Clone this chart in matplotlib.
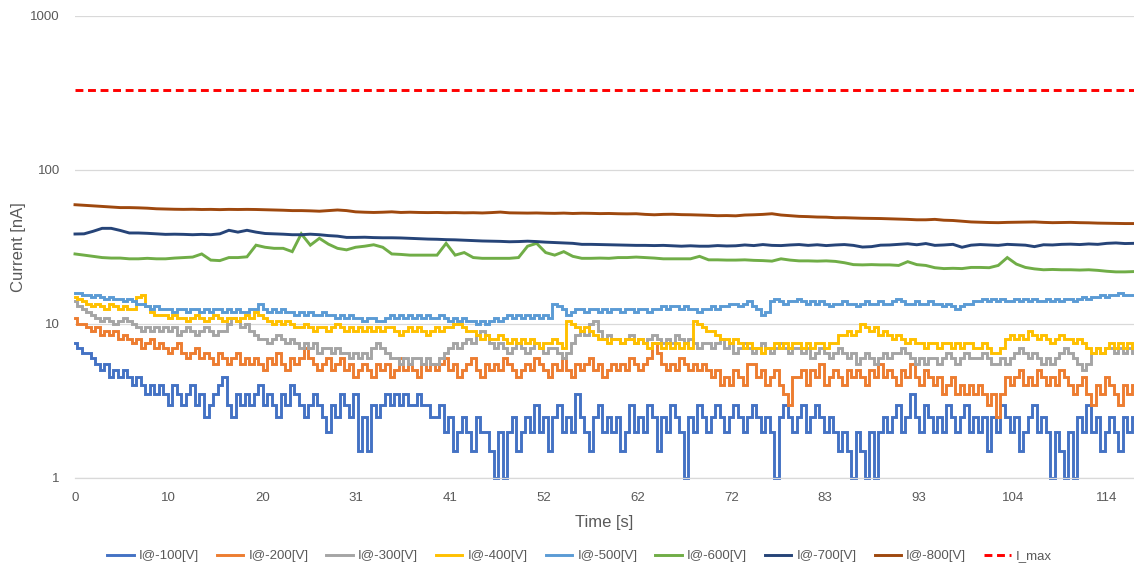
import numpy as np
import matplotlib.pyplot as plt
from matplotlib.ticker import NullLocator

plt.rcParams['font.family'] = ['Liberation Sans', 'DejaVu Sans']

# fine sampled series (0.5 s step), current in nA
i100 = [
    7.5, 7.0, 6.5, 6.5, 6.0, 5.5, 5.0, 5.5, 4.5, 5.0, 4.5, 5.0, 4.5, 4.0, 4.5, 4.0, 3.5, 4.0, 3.5, 4.0,
    3.5, 3.0, 4.0, 3.5, 3.0, 3.5, 4.0, 3.0, 3.5, 2.5, 3.0, 3.5, 4.0, 4.5, 3.0, 2.5, 3.5, 3.0, 3.5, 3.0,
    3.5, 4.0, 3.0, 3.5, 3.0, 2.5, 3.5, 3.0, 4.0, 3.5, 3.0, 2.5, 3.0, 3.5, 3.0, 2.5, 2.0, 3.0, 2.5, 3.5,
    3.0, 2.5, 3.5, 1.5, 2.5, 1.5, 3.0, 2.5, 3.0, 3.5, 3.0, 3.5, 3.0, 3.5, 3.0, 3.0, 3.5, 3.0, 3.0, 2.5,
    2.5, 3.0, 2.0, 2.5, 1.5, 2.0, 2.5, 2.0, 1.5, 2.5, 2.0, 2.0, 1.5, 1.0, 2.0, 1.0, 2.0, 2.5, 1.5, 2.0,
    2.5, 2.0, 3.0, 2.0, 2.5, 1.5, 2.5, 3.0, 2.0, 2.5, 2.0, 3.5, 2.5, 2.0, 1.5, 2.5, 3.0, 2.0, 2.5, 2.0,
    2.5, 1.5, 2.0, 3.0, 2.0, 2.5, 2.0, 3.0, 2.5, 1.5, 2.5, 2.0, 3.0, 2.5, 2.0, 1.0, 2.5, 2.0, 3.0, 2.5,
    2.0, 2.5, 3.0, 2.5, 2.0, 2.5, 3.0, 2.5, 2.0, 2.5, 3.0, 2.5, 2.0, 2.5, 2.0, 1.0, 2.5, 3.0, 2.5, 2.0,
    2.5, 3.0, 2.0, 2.5, 3.0, 2.5, 2.0, 2.5, 2.0, 1.5, 2.0, 1.5, 1.0, 2.0, 1.5, 1.0, 2.0, 1.0, 2.0, 2.5,
    2.0, 2.5, 3.0, 2.0, 2.5, 3.5, 2.5, 2.0, 3.0, 2.5, 2.0, 2.5, 2.0, 3.0, 2.5, 2.0, 2.5, 3.0, 2.0, 2.5,
    2.0, 2.5, 1.5, 2.5, 2.0, 3.0, 2.5, 2.0, 2.5, 1.5, 2.0, 2.5, 3.0, 2.0, 2.5, 2.0, 1.0, 2.0, 1.5, 1.0,
    2.0, 1.0, 2.5, 2.0, 3.0, 2.0, 2.5, 1.5, 2.0, 2.5, 2.0, 1.5, 2.5, 2.0, 2.5,
]
i200 = [
    11.0, 10.0, 10.0, 9.5, 9.0, 9.5, 8.5, 9.0, 8.5, 9.0, 8.0, 8.5, 8.0, 7.5, 8.0, 7.0, 7.5, 8.0, 7.0, 7.5,
    7.0, 6.5, 7.0, 7.5, 6.5, 6.0, 6.5, 7.0, 6.0, 6.5, 6.0, 5.5, 6.5, 6.0, 5.5, 6.0, 6.5, 5.5, 6.0, 5.5,
    6.0, 5.5, 5.0, 6.0, 5.5, 6.5, 5.5, 5.0, 6.0, 5.5, 6.0, 7.0, 6.0, 5.5, 5.0, 5.5, 6.0, 5.0, 5.5, 6.0,
    5.0, 5.5, 4.5, 5.0, 5.5, 5.0, 4.5, 5.5, 5.0, 5.5, 4.5, 5.0, 6.0, 5.0, 5.5, 5.0, 4.5, 5.5, 5.0, 5.5,
    5.0, 5.5, 6.0, 5.0, 5.5, 4.5, 5.0, 5.5, 6.0, 5.0, 4.5, 5.5, 5.0, 5.5, 5.0, 6.0, 5.5, 5.0, 4.5, 5.0,
    5.5, 5.0, 6.0, 5.5, 5.0, 4.5, 5.5, 5.0, 6.0, 5.0, 4.5, 5.5, 5.0, 5.5, 6.0, 5.0, 5.5, 4.5, 5.0, 5.5,
    5.0, 5.5, 5.0, 6.0, 5.5, 5.0, 5.5, 6.0, 7.5, 6.5, 5.5, 5.0, 5.5, 5.0, 6.0, 5.5, 5.0, 5.5, 5.0, 5.5,
    5.0, 4.5, 5.0, 4.0, 4.5, 4.0, 5.0, 4.5, 4.0, 5.5, 5.5, 4.5, 5.0, 4.0, 4.5, 5.0, 4.0, 3.5, 3.0, 4.5,
    4.5, 5.0, 4.0, 5.0, 4.5, 5.5, 4.0, 4.5, 5.0, 4.5, 4.0, 5.0, 4.5, 5.0, 4.5, 4.0, 5.0, 4.5, 5.5, 4.5,
    5.0, 4.5, 4.0, 5.0, 4.5, 5.5, 4.5, 4.0, 5.0, 4.5, 4.0, 4.5, 3.5, 4.0, 4.5, 3.5, 4.0, 3.5, 4.0, 3.5,
    4.0, 3.5, 3.0, 3.5, 2.5, 3.5, 4.5, 4.0, 4.5, 5.0, 4.0, 4.5, 4.0, 5.0, 4.5, 4.0, 4.5, 4.0, 5.0, 4.5,
    4.0, 3.5, 4.0, 4.5, 3.5, 3.0, 4.0, 3.5, 4.5, 4.0, 3.5, 3.0, 4.0, 3.5, 4.0,
]
i300 = [
    14.0, 13.0, 12.5, 12.0, 11.5, 11.0, 10.5, 11.0, 10.5, 10.0, 10.5, 11.0, 10.5, 10.0, 9.5, 9.0, 9.5, 9.0, 9.5, 9.0,
    9.5, 9.0, 9.5, 8.5, 9.0, 9.5, 9.0, 8.5, 9.0, 9.5, 9.0, 8.5, 9.0, 9.0, 10.0, 11.0, 10.5, 9.5, 10.0, 9.0,
    8.5, 8.0, 8.0, 7.5, 8.0, 8.5, 8.0, 7.5, 8.0, 7.5, 7.0, 7.5, 7.0, 7.5, 6.5, 7.0, 7.0, 6.5, 7.0, 6.5,
    6.5, 6.0, 6.5, 6.0, 6.5, 6.0, 7.0, 7.5, 7.0, 6.5, 6.0, 6.0, 5.5, 6.0, 5.5, 6.0, 6.0, 5.5, 6.0, 5.5,
    5.5, 6.0, 6.5, 7.0, 7.5, 7.0, 7.5, 8.0, 7.5, 8.5, 9.0, 8.5, 7.5, 7.0, 7.5, 7.0, 6.5, 7.0, 7.5, 7.0,
    6.5, 7.0, 7.5, 7.0, 6.5, 7.0, 7.0, 6.5, 6.0, 6.5, 7.5, 8.5, 9.0, 8.5, 10.0, 10.5, 9.0, 8.0, 8.5, 8.0,
    8.0, 7.5, 8.0, 8.5, 7.5, 8.0, 7.5, 8.0, 8.5, 8.0, 7.5, 8.0, 7.5, 8.5, 8.0, 7.5, 8.0, 7.5, 7.0, 7.5,
    7.5, 7.0, 7.5, 8.0, 7.0, 7.5, 6.5, 7.0, 7.5, 7.0, 6.5, 7.0, 7.5, 7.0, 6.5, 7.0, 7.5, 7.0, 6.5, 7.0,
    7.0, 6.5, 7.0, 6.0, 6.5, 7.0, 6.5, 6.0, 6.5, 7.0, 6.5, 6.0, 6.5, 5.5, 6.0, 6.5, 6.0, 5.5, 6.0, 6.5,
    6.0, 6.5, 6.5, 7.0, 6.5, 6.0, 5.5, 6.0, 5.5, 6.0, 6.0, 5.5, 6.0, 6.5, 6.0, 5.5, 6.0, 6.5, 6.0, 6.0,
    6.0, 6.5, 6.0, 5.5, 5.5, 6.0, 5.5, 6.0, 6.5, 7.0, 6.5, 6.0, 6.5, 6.0, 5.5, 6.0, 5.5, 6.0, 6.5, 7.0,
    6.5, 6.0, 5.5, 5.0, 5.5, 6.5, 7.0, 6.5, 7.0, 7.0, 6.5, 7.0, 6.5, 7.0, 6.5,
]
i400 = [
    15.0, 14.5, 14.0, 13.5, 13.0, 13.5, 13.0, 12.5, 13.5, 13.0, 12.5, 13.0, 12.5, 12.5, 15.0, 15.5, 13.0, 12.0, 11.5, 11.5,
    11.5, 11.0, 11.5, 11.0, 11.0, 10.5, 11.0, 11.5, 11.0, 10.5, 11.0, 11.5, 11.0, 10.5, 11.0, 11.0, 10.5, 11.0, 11.5, 11.0,
    12.0, 11.5, 11.0, 10.5, 10.0, 10.5, 10.0, 10.5, 10.0, 9.5, 9.5, 10.0, 9.5, 9.0, 9.5, 9.5, 9.0, 9.5, 10.0, 9.5,
    9.0, 9.5, 9.0, 9.5, 9.0, 9.5, 9.0, 9.5, 9.0, 9.5, 9.5, 9.0, 8.5, 9.0, 9.5, 9.0, 9.5, 9.0, 8.5, 9.0,
    9.5, 9.0, 9.5, 9.5, 10.0, 10.0, 9.5, 9.0, 9.0, 8.5, 8.0, 8.5, 8.0, 8.0, 8.5, 8.0, 7.5, 8.0, 7.5, 8.0,
    7.5, 8.0, 7.5, 7.0, 7.5, 7.5, 8.0, 7.5, 7.0, 10.5, 10.0, 9.5, 9.0, 9.5, 9.0, 8.5, 8.0, 8.0, 7.5, 8.0,
    8.0, 7.5, 8.0, 8.0, 7.5, 8.0, 7.5, 7.0, 7.5, 7.5, 7.0, 7.5, 7.0, 7.5, 7.0, 7.5, 7.0, 10.5, 10.0, 9.5,
    9.0, 9.0, 8.5, 8.0, 8.0, 7.5, 8.0, 7.5, 7.0, 7.5, 7.0, 7.0, 6.5, 7.0, 7.0, 7.5, 7.0, 7.5, 7.0, 7.5,
    7.5, 7.0, 7.5, 7.0, 7.5, 7.5, 7.0, 7.5, 7.5, 8.5, 8.5, 9.0, 8.5, 9.0, 10.0, 9.5, 9.0, 9.5, 8.5, 9.0,
    8.5, 8.0, 8.5, 8.0, 7.5, 8.0, 7.5, 7.5, 7.0, 7.5, 7.5, 7.0, 7.5, 7.5, 7.0, 7.5, 7.0, 7.5, 7.5, 7.0,
    7.0, 7.5, 7.0, 6.5, 6.5, 7.0, 8.0, 8.5, 8.0, 8.5, 8.0, 9.0, 8.5, 8.0, 8.5, 8.0, 7.5, 8.0, 8.5, 8.0,
    8.0, 7.5, 8.0, 7.5, 7.0, 6.5, 7.0, 6.5, 7.0, 7.5, 7.0, 7.5, 7.0, 7.5, 7.0,
]
i500 = [
    16.0, 16.0, 15.5, 15.5, 15.0, 15.5, 15.0, 14.5, 15.0, 14.5, 14.5, 14.0, 14.5, 14.0, 13.5, 13.5, 13.0, 12.5, 13.0, 12.5,
    12.5, 12.5, 12.0, 12.5, 12.5, 12.0, 12.5, 12.5, 12.0, 12.5, 12.0, 12.5, 12.5, 12.0, 12.5, 12.0, 12.5, 12.0, 12.0, 12.5,
    12.5, 13.5, 12.5, 12.0, 12.5, 12.0, 12.5, 12.0, 12.0, 11.5, 12.0, 11.5, 12.0, 11.5, 11.5, 12.0, 11.5, 11.5, 11.0, 11.5,
    11.0, 11.5, 11.0, 11.0, 10.5, 11.0, 11.0, 10.5, 10.5, 11.0, 11.5, 11.0, 11.5, 11.0, 11.5, 11.0, 11.5, 11.0, 11.5, 11.0,
    11.0, 11.5, 11.0, 10.5, 11.0, 10.5, 11.0, 10.5, 10.5, 10.0, 10.5, 10.0, 10.5, 11.0, 10.5, 11.0, 11.5, 11.0, 11.5, 11.0,
    11.5, 11.0, 11.5, 11.0, 11.5, 11.0, 13.5, 13.0, 12.5, 11.5, 12.0, 12.5, 12.5, 12.0, 12.5, 12.5, 12.0, 12.5, 12.0, 12.5,
    12.5, 12.0, 12.5, 12.5, 12.0, 12.5, 12.5, 12.0, 12.5, 12.5, 13.0, 12.5, 13.0, 13.0, 12.5, 13.0, 12.5, 12.5, 12.0, 12.5,
    12.5, 13.0, 12.5, 13.0, 13.0, 13.5, 13.5, 13.0, 13.5, 14.0, 13.0, 12.5, 11.5, 12.0, 14.0, 14.5, 14.0, 13.5, 14.0, 14.0,
    14.5, 14.0, 13.5, 14.0, 13.5, 14.0, 13.5, 13.0, 13.5, 13.5, 14.0, 13.5, 13.5, 13.0, 13.5, 14.0, 13.5, 13.5, 14.0, 13.5,
    13.5, 14.0, 14.5, 14.0, 13.5, 13.5, 14.0, 13.5, 13.5, 14.0, 13.5, 13.5, 13.0, 13.5, 13.0, 12.5, 13.0, 13.5, 13.5, 14.0,
    14.0, 14.5, 14.0, 14.5, 14.0, 14.5, 14.0, 14.0, 14.5, 14.0, 14.5, 14.0, 14.5, 14.0, 14.0, 14.5, 14.0, 14.5, 14.0, 14.5,
    14.5, 14.0, 14.5, 15.0, 14.5, 15.0, 15.0, 15.5, 15.0, 15.5, 15.5, 16.0, 15.5, 15.5, 15.5,
]

# coarse sampled series (1 s step)
i600 = [
    28.5, 28.0, 27.5, 27.0, 26.8, 26.8, 26.5, 26.5, 26.7, 26.5,
    26.5, 26.8, 27.0, 27.2, 28.5, 26.0, 25.8, 27.0, 27.0, 27.3,
    32.5, 31.5, 31.0, 31.0, 29.5, 38.5, 32.5, 36.0, 33.0, 31.0,
    30.3, 31.5, 32.0, 32.7, 31.5, 28.5, 28.3, 28.0, 28.0, 28.0,
    28.0, 33.4, 28.0, 29.1, 27.0, 26.7, 26.7, 26.7, 26.7, 27.0,
    32.0, 33.4, 29.1, 28.0, 29.5, 27.5, 26.7, 26.7, 26.8, 26.7,
    27.0, 27.0, 27.2, 27.0, 26.8, 26.5, 26.5, 26.5, 26.5, 27.5,
    26.1, 26.1, 26.0, 26.0, 26.1, 25.9, 25.8, 25.6, 26.5, 26.0,
    25.7, 25.7, 25.6, 25.7, 25.5, 25.0, 24.3, 24.2, 24.3, 24.2,
    24.2, 24.0, 25.4, 24.3, 24.0, 23.2, 22.9, 23.0, 22.9, 23.3,
    23.3, 23.2, 24.0, 27.0, 24.5, 23.3, 22.8, 22.5, 22.6, 22.5,
    22.5, 22.4, 22.5, 22.3, 22.0, 21.8, 21.8, 21.9,
]
i700 = [
    38.4, 38.5, 40.0, 41.8, 41.8, 40.5, 39.0, 39.0, 38.8, 38.5,
    38.2, 38.3, 38.2, 38.0, 38.2, 38.0, 38.5, 40.6, 39.5, 40.6,
    39.5, 38.7, 38.5, 38.3, 38.0, 38.0, 38.3, 38.0, 37.5, 37.2,
    36.5, 36.5, 36.6, 36.4, 36.3, 36.3, 36.2, 36.0, 35.8, 35.6,
    35.5, 35.3, 35.2, 35.0, 34.8, 34.6, 34.5, 34.4, 34.2, 34.3,
    34.5, 34.3, 34.0, 33.8, 33.6, 33.4, 32.9, 32.9, 32.8, 32.7,
    32.6, 32.5, 32.4, 32.4, 32.3, 32.4, 32.2, 32.0, 32.2, 32.0,
    32.0, 32.3, 32.1, 32.2, 32.6, 32.3, 32.8, 32.4, 32.3, 32.6,
    32.8, 32.4, 32.7, 32.3, 32.6, 32.8, 32.4, 31.6, 31.8, 32.5,
    32.6, 32.9, 33.2, 32.7, 33.3, 32.4, 32.6, 32.9, 31.5, 32.5,
    32.8, 32.6, 32.4, 32.9, 32.7, 32.5, 31.8, 32.7, 32.6, 32.9,
    33.0, 32.8, 33.1, 32.9, 33.4, 33.6, 33.3, 33.4,
]
i800 = [
    59.5, 59.0, 58.5, 58.0, 57.5, 57.0, 57.0, 56.8, 56.5, 56.0,
    55.8, 55.6, 55.5, 55.6, 55.4, 55.5, 55.3, 55.5, 55.4, 55.5,
    55.4, 55.2, 55.0, 54.8, 54.5, 54.5, 54.3, 54.0, 54.5, 55.0,
    54.5, 53.5, 53.2, 53.0, 53.2, 53.5, 53.0, 53.2, 53.0, 52.9,
    53.0, 52.8, 52.9, 52.7, 52.8, 52.6, 52.9, 53.3, 52.7, 52.6,
    52.5, 52.6, 52.4, 52.3, 52.5, 52.2, 52.4, 52.3, 52.1, 52.2,
    52.0, 51.9, 52.0, 51.5, 51.2, 51.5, 51.6, 51.3, 51.2, 51.0,
    50.8, 50.5, 50.6, 50.4, 51.0, 51.2, 51.5, 52.0, 51.0, 50.5,
    50.0, 49.8, 49.5, 49.4, 49.0, 49.0, 48.8, 48.6, 48.5, 48.4,
    48.2, 48.0, 47.8, 47.5, 47.5, 47.8, 47.2, 47.0, 46.5, 46.0,
    45.8, 45.6, 45.5, 45.7, 45.8, 45.9, 46.0, 45.7, 45.5, 45.6,
    45.7, 45.5, 45.4, 45.2, 45.1, 45.0, 44.9, 44.9,
]
i_max = 330

labels = ['I@-100[V]', 'I@-200[V]', 'I@-300[V]', 'I@-400[V]',
          'I@-500[V]', 'I@-600[V]', 'I@-700[V]', 'I@-800[V]']
colors = ['#4472C4', '#ED7D31', '#A5A5A5', '#FFC000',
          '#5B9BD5', '#70AD47', '#264478', '#9E480E']
x_labels = ['0', '10', '20', '31', '41', '52', '62', '72', '83', '93', '104', '114']

series = [(i100, 0.5), (i200, 0.5), (i300, 0.5), (i400, 0.5),
          (i500, 0.5), (i600, 1.0), (i700, 1.0), (i800, 1.0)]

text_col = '#595959'
t_end = 117
label_step = 10.36

fig = plt.figure(figsize=(11.34, 5.67), dpi=100)
ax = fig.add_axes([75 / 1134, 1 - 478 / 567, 1 - 75 / 1134, (478 - 16) / 567])

handles = []
for (vals, step), lab, col in zip(series, labels, colors):
    t = np.arange(len(vals)) * step
    # the fast sampled currents are digitised, so draw them as steps
    ds = 'steps-mid' if step < 1 else 'default'
    h, = ax.plot(t, vals, color=col, lw=2.1, label=lab, clip_on=False,
                 drawstyle=ds, solid_joinstyle='miter')
    handles.append(h)

h, = ax.plot([0, t_end], [i_max, i_max], color='#FF0000', lw=2.1,
             dashes=(2.7, 1.6), label='I_max', clip_on=False)
handles.append(h)

ax.set_yscale('log')
ax.set_ylim(1, 1000)
ax.set_xlim(0, t_end)
ax.set_yticks([1, 10, 100, 1000], labels=['1', '10', '100', '1000'])
ax.yaxis.set_minor_locator(NullLocator())
ax.set_xticks(np.arange(len(x_labels)) * label_step, labels=x_labels)

ax.grid(axis='y', color='#D9D9D9', lw=0.9)
ax.set_axisbelow(True)
for s in ['top', 'right', 'left']:
    ax.spines[s].set_visible(False)
ax.spines['bottom'].set_color('#D9D9D9')
ax.spines['bottom'].set_linewidth(0.9)
ax.tick_params(length=0, labelsize=9.5, labelcolor=text_col)
ax.tick_params(axis='y', pad=11)
ax.tick_params(axis='x', pad=10)

ax.set_xlabel('Time [s]', fontsize=12, color=text_col, labelpad=8)
ax.set_ylabel('Current [nA]', fontsize=12, color=text_col, labelpad=3)

leg = fig.legend(handles=handles, loc='center', bbox_to_anchor=(0.511, 1 - 556 / 567),
                 ncol=9, frameon=False, fontsize=9.5, handlelength=2.0,
                 handletextpad=0.4, columnspacing=1.35)
for txt in leg.get_texts():
    txt.set_color(text_col)

fig.savefig('out.png', dpi=100)
